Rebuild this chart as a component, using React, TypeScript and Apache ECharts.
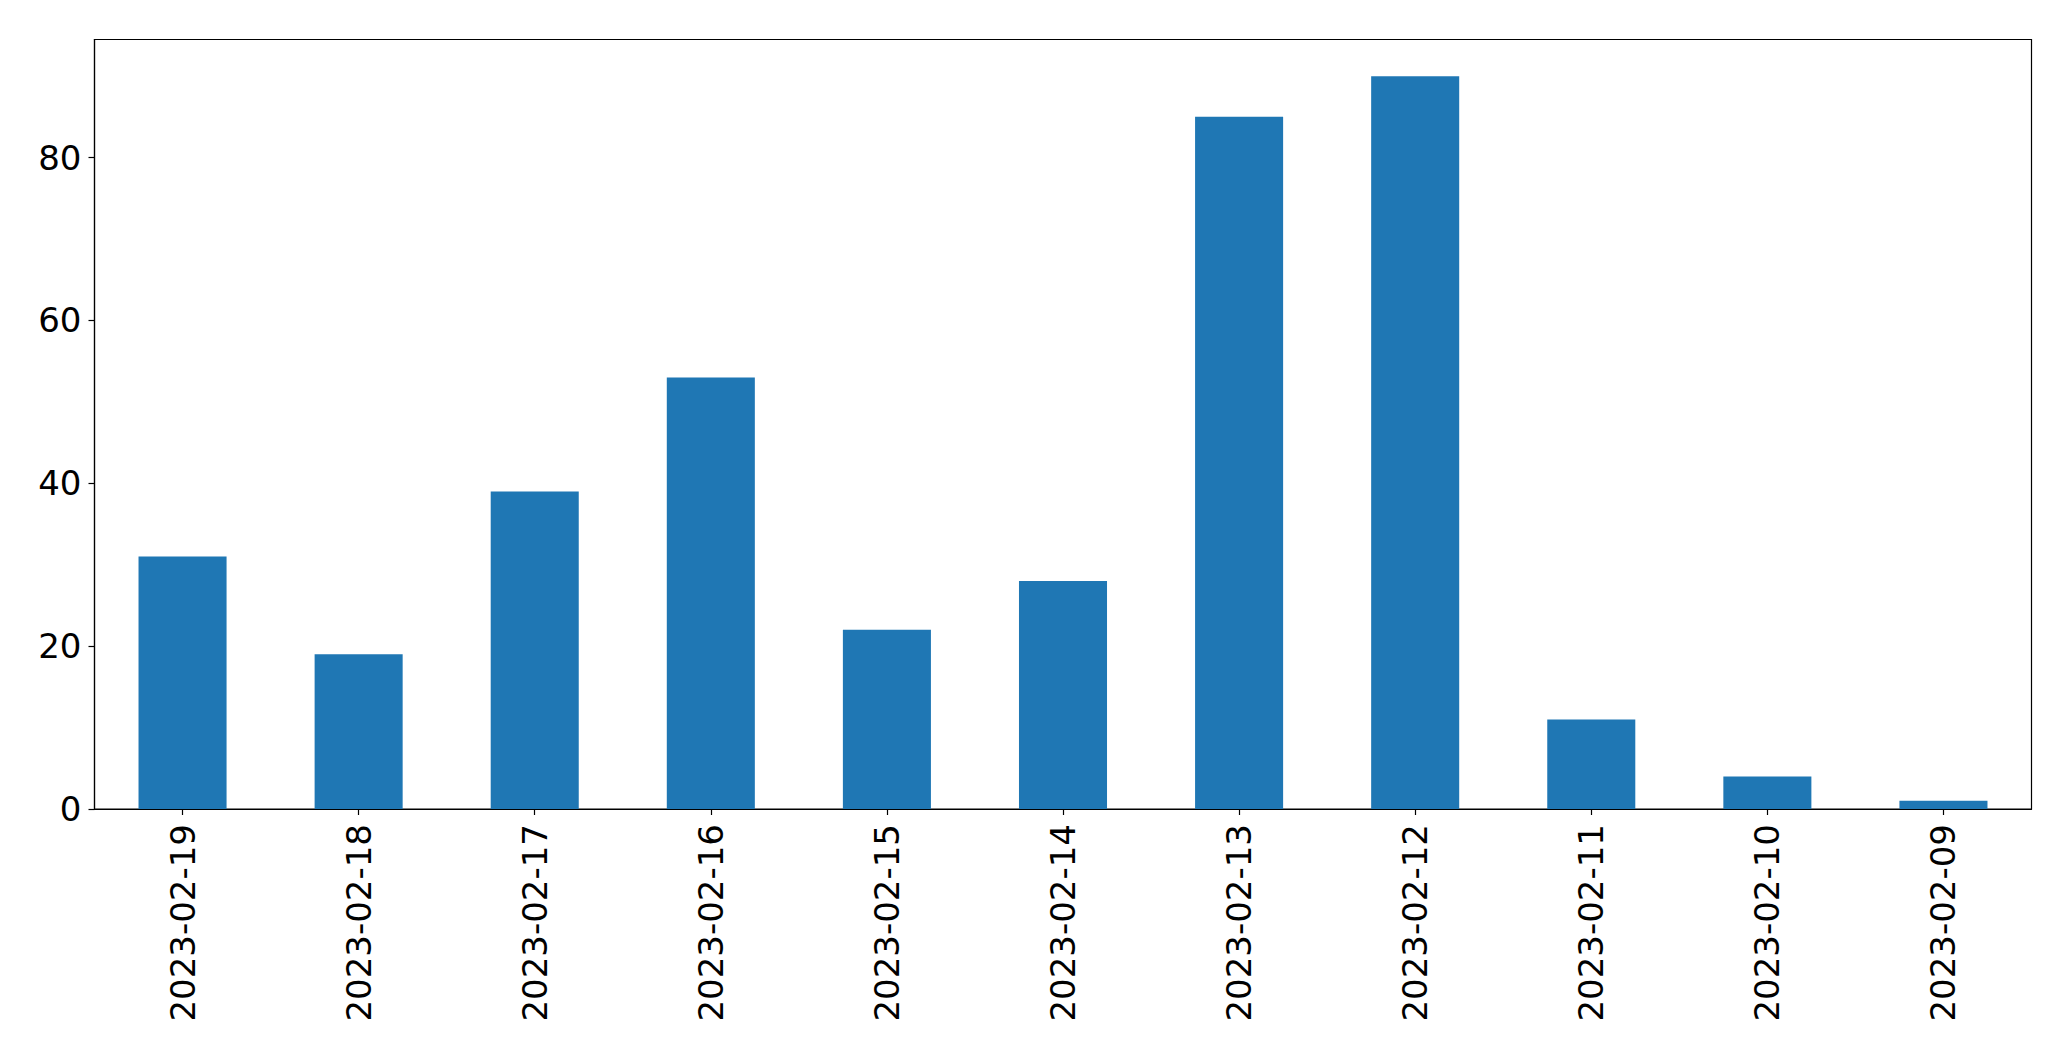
import React, { useEffect, useRef } from "react";
import * as echarts from "echarts";

const categories = [
  "2023-02-19", "2023-02-18", "2023-02-17", "2023-02-16", "2023-02-15", "2023-02-14",
  "2023-02-13", "2023-02-12", "2023-02-11", "2023-02-10", "2023-02-09",
];
const counts = [31, 19, 39, 53, 22, 28, 85, 90, 11, 4, 1];
const yTicks = [0, 20, 40, 60, 80];
const yMax = 94.5;

export default function App() {
  const ref = useRef<HTMLDivElement>(null);
  useEffect(() => {
    if (!ref.current) return;
    const chart = echarts.init(ref.current, null, { renderer: "svg" });
    const font = "DejaVu Sans";
    chart.setOption({
      animation: false,
      backgroundColor: "#ffffff",
      grid: {
        left: 94.5,
        top: 39.5,
        right: 39.5,
        bottom: 252,
        show: true,
        borderColor: "#000000",
        borderWidth: 1.2,
        backgroundColor: "transparent",
      },
      xAxis: {
        type: "category",
        data: categories,
        boundaryGap: true,
        axisLine: { show: true, lineStyle: { color: "#000", width: 1.2 } },
        axisTick: { show: true, alignWithLabel: true, length: 6, lineStyle: { color: "#000", width: 1.2 } },
        axisLabel: {
          rotate: 90,
          margin: 15,
          fontFamily: font,
          fontSize: 34,
          color: "#000",
          interval: 0,
        },
        splitLine: { show: false },
      },
      yAxis: {
        type: "value",
        min: 0,
        max: yMax,
        axisLine: { show: true, lineStyle: { color: "#000", width: 1.2 } },
        axisTick: { show: true, length: 6, customValues: yTicks, lineStyle: { color: "#000", width: 1.2 } },
        axisLabel: {
          customValues: yTicks,
          margin: 13,
          fontFamily: font,
          fontSize: 34,
          color: "#000",
        },
        splitLine: { show: false },
      },
      series: [
        {
          type: "bar",
          data: counts,
          barWidth: "50%",
          itemStyle: { color: "#1f77b4" },
        },
      ],
    });
    return () => chart.dispose();
  }, []);
  return (
    <div
      ref={ref}
      style={{ position: "fixed", left: 0, top: 0, width: "2071px", height: "1061px", background: "#fff" }}
    />
  );
}
